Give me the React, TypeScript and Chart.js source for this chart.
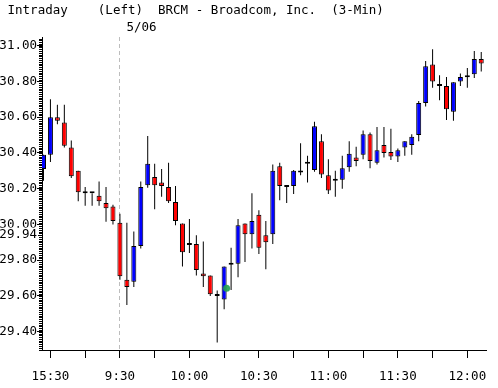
import React, { useEffect, useRef } from "react";
import { Chart, registerables } from "chart.js";

Chart.register(...registerables);

// ---- data ----
const times = [
  "15:27", "15:30", "15:33", "15:36", "15:39", "15:42", "15:45", "15:48", "15:51", "15:54", "15:57",
  "9:30", "9:33", "9:36", "9:39", "9:42", "9:45", "9:48", "9:51", "9:54", "9:57",
  "10:00", "10:03", "10:06", "10:09", "10:12", "10:15", "10:18", "10:21", "10:24", "10:27",
  "10:30", "10:33", "10:36", "10:39", "10:42", "10:45", "10:48", "10:51", "10:54", "10:57",
  "11:00", "11:03", "11:06", "11:09", "11:12", "11:15", "11:18", "11:21", "11:24", "11:27",
  "11:30", "11:33", "11:36", "11:39", "11:42", "11:45", "11:48", "11:51", "11:54", "11:57",
  "12:00", "12:03", "12:06",
];

const opens = [
  30.31, 30.39, 30.6, 30.57, 30.43, 30.3, 30.175, 30.175, 30.16, 30.12, 30.1,
  30.01, 29.69, 29.68, 29.88, 30.22, 30.265, 30.235, 30.21, 30.125, 30.005,
  29.885, 29.89, 29.725, 29.715, 29.6, 29.58, 29.775, 29.78, 30.005, 29.945,
  30.055, 29.94, 29.945, 30.325, 30.21, 30.215, 30.29, 30.34, 30.305, 30.465,
  30.275, 30.245, 30.25, 30.32, 30.375, 30.39, 30.505, 30.345, 30.445, 30.405,
  30.38, 30.43, 30.445, 30.5, 30.68, 30.895, 30.775, 30.775, 30.63, 30.8,
  30.823, 30.84, 30.925,
];
const highs = [
  30.39, 30.7, 30.67, 30.67, 30.47, 30.3, 30.21, 30.175, 30.24, 30.21, 30.11,
  30.06, 30.01, 29.96, 30.24, 30.495, 30.34, 30.31, 30.345, 30.215, 30.005,
  30.03, 29.94, 29.905, 29.715, 29.63, 29.765, 29.87, 30.03, 30.005, 30.175,
  30.08, 30.02, 30.335, 30.345, 30.22, 30.305, 30.455, 30.385, 30.575, 30.505,
  30.365, 30.3, 30.385, 30.465, 30.435, 30.525, 30.515, 30.545, 30.545, 30.535,
  30.425, 30.465, 30.505, 30.69, 30.915, 30.98, 30.835, 30.825, 30.795, 30.845,
  30.875, 30.97, 30.965,
];
const lows = [
  30.245, 30.35, 30.56, 30.43, 30.26, 30.13, 30.105, 30.105, 30.105, 30.015, 30.0,
  29.69, 29.55, 29.65, 29.865, 30.205, 30.085, 30.155, 30.12, 29.995, 29.765,
  29.84, 29.715, 29.65, 29.6, 29.34, 29.525, 29.633, 29.705, 29.79, 29.865,
  29.835, 29.75, 29.89, 30.135, 30.12, 30.17, 30.275, 30.235, 30.295, 30.26,
  30.17, 30.155, 30.2, 30.295, 30.325, 30.365, 30.315, 30.335, 30.375, 30.36,
  30.35, 30.385, 30.39, 30.465, 30.66, 30.765, 30.695, 30.585, 30.58, 30.775,
  30.765, 30.82, 30.855,
];
const closes = [
  30.39, 30.6, 30.58, 30.44, 30.27, 30.18, 30.175, 30.175, 30.13, 30.09, 30.02,
  29.71, 29.65, 29.88, 30.21, 30.34, 30.22, 30.215, 30.13, 30.02, 29.845,
  29.885, 29.745, 29.71, 29.61, 29.6, 29.765, 29.775, 29.995, 29.945, 30.02,
  29.87, 29.9, 30.3, 30.215, 30.21, 30.3, 30.29, 30.34, 30.55, 30.28,
  30.19, 30.245, 30.315, 30.395, 30.355, 30.505, 30.355, 30.415, 30.4, 30.38,
  30.415, 30.465, 30.49, 30.68, 30.885, 30.8, 30.775, 30.645, 30.795, 30.825,
  30.823, 30.925, 30.9,
];

const yTickValues = [29.4, 29.6, 29.8, 30.0, 30.2, 30.4, 30.6, 30.8, 31.0];
const prevCloseTick = 29.94;
const sessionDate = "5/06";
const titleText = " Intraday    (Left)  BRCM - Broadcom, Inc.  (3-Min)";
const markerPoint = [{ x: 26.35, y: 29.643 }];

const FONT = "'DejaVu Sans Mono', monospace";
const UP = "#0000ff";
const DOWN = "#ff0000";

function toMin(t: string) {
  const [h, m] = t.split(":").map(Number);
  return h * 60 + m;
}

export default function App() {
  const ref = useRef<HTMLCanvasElement>(null);

  useEffect(() => {
    if (!ref.current) return;
    const idx = times.map((_, i) => i);
    const sessionStart = times.findIndex((t, i) => i > 0 && toMin(t) < toMin(times[i - 1]));
    const bodyColors = idx.map((i) =>
      closes[i] > opens[i] ? UP : closes[i] < opens[i] ? DOWN : "#000"
    );

    const decorations = {
      id: "decorations",
      beforeDatasetsDraw(chart: any) {
        const ctx = chart.ctx;
        const { top, bottom } = chart.chartArea;
        const px = Math.round(chart.scales.x.getPixelForValue(sessionStart)) - 0.5;
        ctx.save();
        ctx.strokeStyle = "#bdbdbd";
        ctx.lineWidth = 1;
        ctx.setLineDash([4, 3]);
        ctx.beginPath();
        ctx.moveTo(px, top);
        ctx.lineTo(px, bottom);
        ctx.stroke();
        ctx.restore();
      },
      afterDraw(chart: any) {
        const ctx = chart.ctx;
        const ys = chart.scales.y;
        const { left } = chart.chartArea;
        ctx.save();
        ctx.strokeStyle = "#000";
        ctx.lineWidth = 1;
        ctx.beginPath();
        for (let k = Math.ceil(ys.min * 100); k <= Math.floor(ys.max * 100); k++) {
          const py = Math.round(ys.getPixelForValue(k / 100)) + 0.5;
          ctx.moveTo(left - 3, py);
          ctx.lineTo(left, py);
        }
        ctx.stroke();
        const px = chart.scales.x.getPixelForValue(sessionStart);
        ctx.fillStyle = "#000";
        ctx.font = `12.5px ${FONT}`;
        ctx.textAlign = "left";
        ctx.textBaseline = "middle";
        ctx.fillText(sessionDate, px + 6.5, 27.5);
        ctx.restore();
      },
    };

    const chart = new Chart(ref.current, {
      type: "bar",
      data: {
        datasets: [
          {
            type: "scatter",
            data: markerPoint,
            pointRadius: 3.5,
            pointBackgroundColor: "rgba(34,160,80,0.9)",
            pointBorderWidth: 0,
            order: 0,
          } as any,
          {
            label: "body",
            data: idx.map((i) => ({ x: i, y: [opens[i], closes[i]] })) as any,
            backgroundColor: bodyColors,
            borderColor: "#000",
            borderWidth: 1,
            borderSkipped: false,
            barThickness: 5,
            minBarLength: 2,
            grouped: false,
            inflateAmount: 0,
            order: 1,
          } as any,
          {
            label: "wick",
            data: idx.map((i) => ({ x: i, y: [lows[i], highs[i]] })) as any,
            backgroundColor: "#000",
            borderWidth: 0,
            barThickness: 1,
            grouped: false,
            inflateAmount: 0,
            order: 2,
          } as any,
        ],
      },
      options: {
        animation: false,
        responsive: true,
        maintainAspectRatio: false,
        layout: { padding: { left: 0, right: 8, top: 0, bottom: 0 } },
        plugins: {
          legend: { display: false },
          tooltip: { enabled: false },
          title: {
            display: true,
            text: titleText,
            align: "start",
            color: "#000",
            font: { family: FONT, size: 12.5, weight: "normal", lineHeight: 1.2 },
            padding: { top: 3.5, bottom: 18.5 },
          },
        },
        scales: {
          x: {
            type: "linear",
            min: -0.2143,
            max: 63.7857,
            offset: false,
            afterBuildTicks: (scale: any) => {
              scale.ticks = idx
                .filter((i) => toMin(times[i]) % 15 === 0)
                .map((i) => ({ value: i }));
            },
            afterFit: (scale: any) => {
              scale.height = 38;
            },
            ticks: {
              autoSkip: false,
              maxRotation: 0,
              minRotation: 0,
              color: "#000",
              padding: 11.5,
              font: { family: FONT, size: 12.5 },
              callback: (v: any) => {
                const t = times[Math.round(Number(v))];
                return t && toMin(t) % 30 === 0 ? t : "";
              },
            },
            grid: {
              drawOnChartArea: false,
              drawTicks: true,
              tickLength: 8,
              color: "#000",
              offset: false,
            },
            border: { display: true, color: "#000" },
          },
          y: {
            type: "linear",
            position: "left",
            min: 29.2977,
            max: 31.0487,
            beginAtZero: false,
            afterBuildTicks: (scale: any) => {
              scale.ticks = [...yTickValues, prevCloseTick].map((v) => ({ value: v }));
            },
            afterFit: (scale: any) => {
              scale.width = 42;
            },
            ticks: {
              autoSkip: false,
              color: "#000",
              padding: 0,
              font: { family: FONT, size: 12.5 },
              callback: (v: any) => Number(v).toFixed(2),
              showLabelBackdrop: (ctx: any) => ctx.tick && ctx.tick.value === prevCloseTick,
              backdropColor: "#fff",
              backdropPadding: { top: 0, bottom: 1, left: 2, right: 1 },
            } as any,
            grid: {
              drawOnChartArea: false,
              drawTicks: true,
              tickLength: 5,
              color: "#000",
            },
            border: { display: true, color: "#000" },
          },
        },
      },
      plugins: [decorations],
    } as any);

    return () => chart.destroy();
  }, []);

  return (
    <div
      style={{
        position: "fixed",
        left: 0,
        top: 0,
        width: 498,
        height: 388,
        background: "#fff",
      }}
    >
      <canvas ref={ref} />
    </div>
  );
}
